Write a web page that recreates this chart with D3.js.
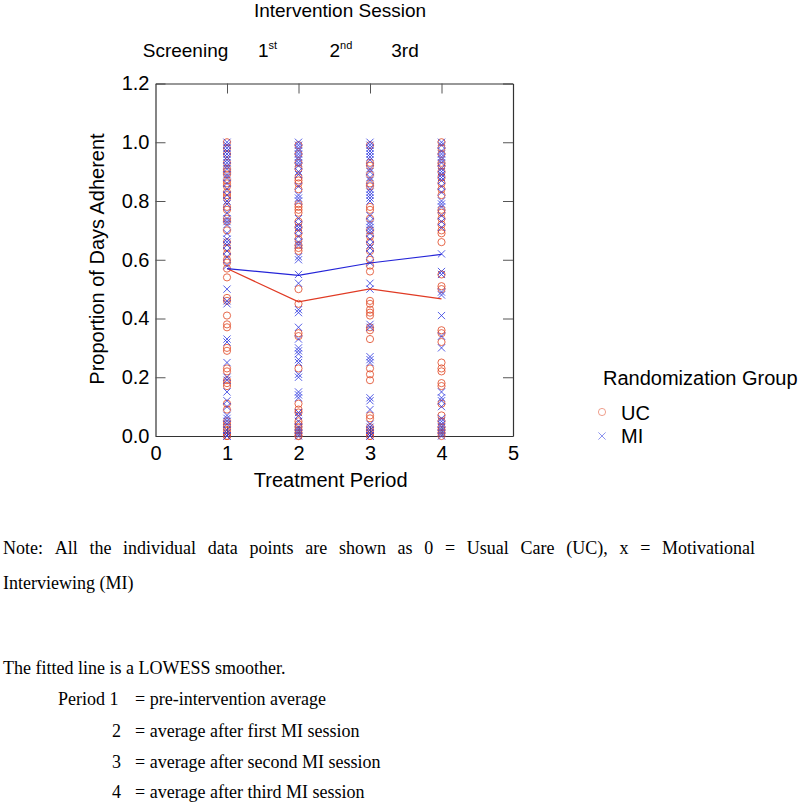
<!DOCTYPE html>
<html>
<head>
<meta charset="utf-8">
<script src="https://cdn.jsdelivr.net/npm/d3@7"></script>
<style>
  html, body { margin: 0; padding: 0; background: #fff; }
  svg { display: block; }
</style>
</head>
<body>
<svg id="chart" width="800" height="804"></svg>
<script>
// ---------------- DATA ----------------
const periods = [1, 2, 3, 4];
const sessionLabels = ["Screening", "1", "2", "3rd"];
const sessionSups = ["", "st", "nd", ""];
const xTicks = [0, 1, 2, 3, 4, 5];
const yTicks = [0, 0.2, 0.4, 0.6, 0.8, 1.0, 1.2];

// UC = Usual Care (circles), MI = Motivational Interviewing (crosses)
const ucPeriod1 = [1.0, 0.98, 0.96, 0.93, 0.91, 0.90, 0.89, 0.87, 0.86, 0.85, 0.83, 0.82, 0.81, 0.78, 0.77, 0.74, 0.73, 0.70, 0.66, 0.64, 0.62, 0.60, 0.59, 0.57, 0.54, 0.47, 0.46, 0.41, 0.38, 0.37, 0.30, 0.29, 0.23, 0.22, 0.19, 0.18, 0.17, 0.11, 0.09, 0.05, 0.04, 0.03, 0.02, 0.01, 0.0, 0.0, 0.0];
const miPeriod1 = [1.0, 0.99, 0.98, 0.97, 0.96, 0.95, 0.94, 0.93, 0.92, 0.91, 0.89, 0.88, 0.86, 0.84, 0.82, 0.80, 0.79, 0.76, 0.74, 0.73, 0.72, 0.69, 0.67, 0.66, 0.65, 0.63, 0.61, 0.58, 0.50, 0.46, 0.45, 0.33, 0.32, 0.25, 0.20, 0.19, 0.15, 0.12, 0.10, 0.07, 0.06, 0.05, 0.04, 0.02, 0.01, 0.0, 0.0];
const ucPeriod2 = [0.99, 0.96, 0.93, 0.91, 0.88, 0.87, 0.86, 0.84, 0.79, 0.78, 0.77, 0.76, 0.73, 0.71, 0.69, 0.67, 0.65, 0.64, 0.63, 0.50, 0.45, 0.35, 0.34, 0.23, 0.11, 0.09, 0.08, 0.05, 0.04, 0.03, 0.02, 0.01, 0.0, 0.0];
const miPeriod2 = [1.0, 0.99, 0.98, 0.97, 0.96, 0.95, 0.94, 0.93, 0.92, 0.90, 0.89, 0.85, 0.82, 0.81, 0.80, 0.74, 0.72, 0.71, 0.70, 0.68, 0.66, 0.65, 0.61, 0.60, 0.55, 0.52, 0.43, 0.42, 0.37, 0.33, 0.30, 0.29, 0.28, 0.26, 0.25, 0.21, 0.20, 0.15, 0.14, 0.13, 0.08, 0.07, 0.05, 0.03, 0.02, 0.01, 0.0];
const ucPeriod3 = [0.99, 0.93, 0.92, 0.89, 0.86, 0.85, 0.78, 0.77, 0.74, 0.70, 0.68, 0.66, 0.63, 0.60, 0.58, 0.56, 0.46, 0.45, 0.43, 0.42, 0.41, 0.37, 0.36, 0.33, 0.23, 0.21, 0.19, 0.07, 0.06, 0.03, 0.02, 0.01, 0.0, 0.0];
const miPeriod3 = [1.0, 0.99, 0.98, 0.97, 0.96, 0.95, 0.94, 0.91, 0.90, 0.88, 0.87, 0.84, 0.83, 0.82, 0.81, 0.80, 0.75, 0.73, 0.72, 0.71, 0.70, 0.69, 0.67, 0.65, 0.64, 0.62, 0.59, 0.52, 0.50, 0.38, 0.37, 0.27, 0.26, 0.25, 0.13, 0.12, 0.09, 0.04, 0.03, 0.02, 0.01, 0.0, 0.0];
const ucPeriod4 = [1.0, 0.98, 0.96, 0.93, 0.92, 0.90, 0.88, 0.86, 0.84, 0.82, 0.77, 0.76, 0.74, 0.72, 0.70, 0.69, 0.66, 0.55, 0.51, 0.50, 0.36, 0.35, 0.32, 0.25, 0.23, 0.22, 0.18, 0.17, 0.11, 0.07, 0.05, 0.03, 0.02, 0.01, 0.0];
const miPeriod4 = [1.0, 0.99, 0.97, 0.96, 0.95, 0.94, 0.93, 0.91, 0.90, 0.89, 0.88, 0.87, 0.85, 0.83, 0.80, 0.79, 0.78, 0.75, 0.73, 0.71, 0.62, 0.56, 0.55, 0.49, 0.48, 0.41, 0.34, 0.30, 0.15, 0.13, 0.12, 0.10, 0.06, 0.05, 0.04, 0.03, 0.02, 0.01, 0.0];

// LOWESS fitted values per period
const ucFit = [0.570, 0.457, 0.501, 0.467];
const miFit = [0.570, 0.547, 0.589, 0.618];

const noteLines = [
  "Note:  All the individual data points are shown as 0 = Usual Care (UC), x = Motivational",
  "Interviewing (MI)"
];
const fitNote = "The fitted line is a LOWESS smoother.";
const periodNotes = [
  ["Period 1", "= pre-intervention average"],
  ["2", "= average after first MI session"],
  ["3", "= average after second MI session"],
  ["4", "= average after third MI session"]
];

// ---------------- CHART ----------------
(function () {
const svg = d3.select("#chart");
const pLeft = 155.5, pRight = 513, pTop = 83.5, pBottom = 436;
const x = d3.scaleLinear().domain([0, 5]).range([pLeft, pRight]);
const y = d3.scaleLinear().domain([0, 1.2]).range([pBottom, pTop]);

const sansFont = "'Liberation Sans', Arial, sans-serif";
const serifFont = "'Liberation Serif', 'Times New Roman', serif";
const red = "#e2502e", blue = "#2b36e0";
const lineRed = "#e03a24", lineBlue = "#2424d8";

const ucSets = [ucPeriod1, ucPeriod2, ucPeriod3, ucPeriod4];
const miSets = [miPeriod1, miPeriod2, miPeriod3, miPeriod4];
const ucPoints = ucSets.flatMap((arr, i) => arr.map(v => ({p: periods[i], v})));
const miPoints = miSets.flatMap((arr, i) => arr.map(v => ({p: periods[i], v})));

const frameColor = "#333";
function styleAxis(g) {
  g.selectAll(".domain").attr("stroke", frameColor).attr("stroke-width", 1.2);
  g.selectAll(".tick line").attr("stroke", "#555").attr("stroke-width", 1);
  g.selectAll(".tick text").attr("fill", "#000").attr("font-family", sansFont).attr("font-size", 20);
}
svg.append("g").attr("transform", `translate(${pLeft},0)`)
  .call(d3.axisLeft(y).tickValues(yTicks).tickFormat(d3.format(".1f")).tickSize(-10).tickSizeOuter(0).tickPadding(6))
  .call(styleAxis);
svg.append("g").attr("transform", `translate(${pRight},0)`)
  .call(d3.axisRight(y).tickValues(yTicks).tickFormat("").tickSize(-10).tickSizeOuter(0))
  .call(styleAxis);
svg.append("g").attr("transform", `translate(0,${pBottom})`)
  .call(d3.axisBottom(x).tickValues(xTicks).tickFormat(d3.format("d")).tickSize(-10).tickSizeOuter(0).tickPadding(10))
  .call(styleAxis)
  .call(g => g.selectAll(".tick").filter(d => d === 0 || d === 5).select("line").remove());
svg.append("g").attr("transform", `translate(0,${pTop})`)
  .call(d3.axisTop(x).tickValues(periods).tickFormat("").tickSize(-10).tickSizeOuter(0))
  .call(styleAxis);

// points
const r = 3.6;
svg.append("g").selectAll("circle").data(ucPoints).join("circle")
  .attr("cx", d => x(d.p)).attr("cy", d => y(d.v)).attr("r", r)
  .attr("fill", "none").attr("stroke", red).attr("stroke-width", 1).attr("stroke-opacity", 0.85);
const cs = 3.6;
svg.append("g").selectAll("path").data(miPoints).join("path")
  .attr("d", d => {
    const cx = x(d.p), cy = y(d.v);
    return `M${cx - cs},${cy - cs}L${cx + cs},${cy + cs}M${cx - cs},${cy + cs}L${cx + cs},${cy - cs}`;
  })
  .attr("fill", "none").attr("stroke", blue).attr("stroke-width", 1).attr("stroke-opacity", 0.8);

// fitted lines
const line = d3.line().x((d, i) => x(periods[i])).y(d => y(d));
svg.append("path").datum(ucFit).attr("d", line).attr("fill", "none").attr("stroke", lineRed).attr("stroke-width", 1.2);
svg.append("path").datum(miFit).attr("d", line).attr("fill", "none").attr("stroke", lineBlue).attr("stroke-width", 1.2);

// axis titles
svg.append("text").attr("x", x(2.45)).attr("y", 487).attr("text-anchor", "middle")
  .attr("font-family", sansFont).attr("font-size", 20).text("Treatment Period");
svg.append("text").attr("transform", `translate(104,259) rotate(-90)`).attr("text-anchor", "middle")
  .attr("font-family", sansFont).attr("font-size", 20).text("Proportion of Days Adherent");

// top labels
svg.append("text").attr("x", 340).attr("y", 17).attr("text-anchor", "middle")
  .attr("font-family", sansFont).attr("font-size", 19).text("Intervention Session");
const sessionX = [185.5, 263, 334.5, 405];
sessionLabels.forEach((lab, i) => {
  const t = svg.append("text").attr("y", 57).attr("font-family", sansFont).attr("font-size", 19);
  if (sessionSups[i]) {
    t.attr("x", sessionX[i] - 5).attr("text-anchor", "start");
    t.append("tspan").text(lab);
    t.append("tspan").attr("dy", -8).attr("font-size", 11).text(sessionSups[i]);
  } else {
    t.attr("x", sessionX[i]).attr("text-anchor", "middle").text(lab);
  }
});

// legend
svg.append("text").attr("x", 603).attr("y", 385).attr("font-family", sansFont).attr("font-size", 20).text("Randomization Group");
svg.append("circle").attr("cx", 602).attr("cy", 412).attr("r", 3.6)
  .attr("fill", "none").attr("stroke", red).attr("stroke-width", 0.9).attr("stroke-opacity", 0.6);
svg.append("text").attr("x", 621).attr("y", 420).attr("font-family", sansFont).attr("font-size", 20).text("UC");
svg.append("path").attr("d", `M${602 - 3.6},${436 - 3.6}L${602 + 3.6},${436 + 3.6}M${602 - 3.6},${436 + 3.6}L${602 + 3.6},${436 - 3.6}`)
  .attr("stroke", blue).attr("stroke-width", 0.9).attr("stroke-opacity", 0.6);
svg.append("text").attr("x", 621).attr("y", 443).attr("font-family", sansFont).attr("font-size", 20).text("MI");

// notes — first line fully justified between x=3 and x=755
(function justify(str, x0, x1, yb) {
  const words = str.split(/\s+/);
  const t = svg.append("text").attr("y", yb).attr("font-family", serifFont).attr("font-size", 18);
  const spans = words.map(w => t.append("tspan").text(w));
  const widths = spans.map(s => s.node().getComputedTextLength());
  const total = d3.sum(widths);
  const gap = (x1 - x0 - total) / (words.length - 1);
  let cx = x0;
  spans.forEach((s, i) => { s.attr("x", cx); cx += widths[i] + gap; });
})(noteLines[0], 3, 755, 554);
svg.append("text").attr("x", 3).attr("y", 589).attr("font-family", serifFont).attr("font-size", 18).text(noteLines[1]);
svg.append("text").attr("x", 3).attr("y", 674).attr("font-family", serifFont).attr("font-size", 18).text(fitNote);
const noteY = [705, 737, 768, 798];
periodNotes.forEach((pn, i) => {
  svg.append("text").attr("x", i === 0 ? 58 : 112).attr("y", noteY[i])
    .attr("font-family", serifFont).attr("font-size", 18).text(pn[0]);
  svg.append("text").attr("x", 135).attr("y", noteY[i])
    .attr("font-family", serifFont).attr("font-size", 18).text(pn[1]);
});
})();
</script>
</body>
</html>
